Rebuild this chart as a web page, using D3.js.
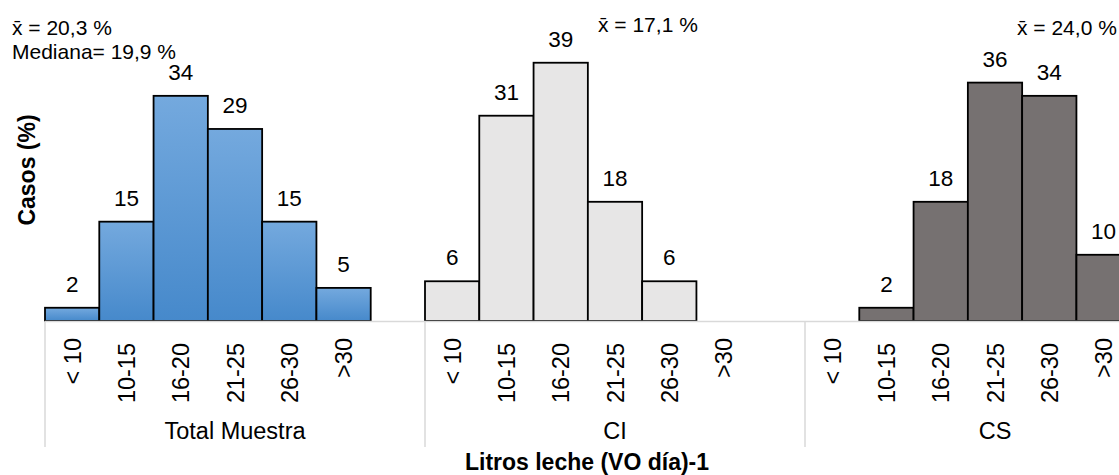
<!DOCTYPE html>
<html>
<head>
<meta charset="utf-8">
<script src="https://cdn.jsdelivr.net/npm/d3@7"></script>
<style>
  body { margin: 0; background: #fff; }
  svg { display: block; font-family: "Liberation Sans", Arial, sans-serif; }
</style>
</head>
<body>
<div id="chart"></div>
<script>
(function(){
  'use strict';

  // data
  const groups = ["Total Muestra", "CI", "CS"];
  const categories = ["< 10", "10-15", "16-20", "21-25", "26-30", ">30"];
  const totalMuestra = [2, 15, 34, 29, 15, 5];
  const ci = [6, 31, 39, 18, 6, null];
  const cs = [null, 2, 18, 36, 34, 10];
  const notes = [
    ["x\u0304 = 20,3 %", "Mediana= 19,9 %"],
    ["x\u0304 = 17,1 %"],
    ["x\u0304 = 24,0 %"]
  ];
  const yTitle = "Casos (%)";
  const xTitle = "Litros leche (VO día)-1";

  const series = [totalMuestra, ci, cs];
  const fills = ["url(#blueGrad)", "#e7e6e6", "#767171"];

  const width = 1119, height = 475;
  const left = 45, groupW = 380, baseY = 321;

  const svg = d3.select("#chart").append("svg")
    .attr("width", width)
    .attr("height", height);

  const grad = svg.append("defs").append("linearGradient")
    .attr("id", "blueGrad").attr("x1", 0).attr("y1", 0).attr("x2", 0).attr("y2", 1);
  grad.append("stop").attr("offset", "0%").attr("stop-color", "#74a9de");
  grad.append("stop").attr("offset", "100%").attr("stop-color", "#4689cb");

  // every group has its 6 classes plus one empty slot
  const slots = [];
  groups.forEach(g => {
    categories.forEach(c => slots.push(g + "|" + c));
    slots.push(g + "|");
  });

  const gx = d3.scaleBand().domain(groups).range([left, left + groupW * groups.length]);
  const x = d3.scaleBand().domain(slots).range(gx.range());
  const y = d3.scaleLinear().domain([0, 45]).range([baseY, 23]);

  // bars
  groups.forEach((g, gi) => {
    const rows = categories.map((c, i) => ({ key: g + "|" + c, v: series[gi][i] }))
      .filter(d => d.v != null);

    const grp = svg.append("g");
    grp.selectAll("rect").data(rows).join("rect")
      .attr("x", d => x(d.key))
      .attr("y", d => y(d.v))
      .attr("width", x.bandwidth())
      .attr("height", d => y(0) - y(d.v))
      .attr("fill", fills[gi])
      .attr("stroke", "#000")
      .attr("stroke-width", 1.8);

    grp.selectAll("text").data(rows).join("text")
      .attr("x", d => x(d.key) + x.bandwidth() / 2)
      .attr("y", d => y(d.v) - 16)
      .attr("text-anchor", "middle")
      .attr("font-size", 22.5)
      .attr("fill", "#000")
      .text(d => d.v);
  });

  // category axis
  const axis = svg.append("g").attr("stroke", "#d9d9d9").attr("stroke-width", 1.5);
  axis.append("line")
    .attr("x1", left).attr("x2", width)
    .attr("y1", baseY + 0.5).attr("y2", baseY + 0.5);
  axis.selectAll(".sep").data(groups).join("line")
    .attr("x1", d => gx(d)).attr("x2", d => gx(d))
    .attr("y1", baseY).attr("y2", 447);

  groups.forEach(g => {
    categories.forEach(c => {
      const cx = x(g + "|" + c) + x.bandwidth() / 2;
      const top = c.length >= 5 ? 343 : 338;
      svg.append("text")
        .attr("transform", `translate(${cx + 8.5},${top}) rotate(-90)`)
        .attr("text-anchor", "end")
        .attr("font-size", 23.5)
        .text(c);
    });
  });

  svg.append("g").selectAll("text").data(groups).join("text")
    .attr("x", d => gx(d) + gx.bandwidth() / 2)
    .attr("y", 439)
    .attr("text-anchor", "middle")
    .attr("font-size", 23.5)
    .text(d => d);

  // titles
  svg.append("text")
    .attr("x", 587).attr("y", 470)
    .attr("text-anchor", "middle")
    .attr("font-size", 23).attr("font-weight", "bold")
    .text(xTitle);

  svg.append("text")
    .attr("transform", "translate(35,170) rotate(-90)")
    .attr("text-anchor", "middle")
    .attr("font-size", 23).attr("font-weight", "bold")
    .text(yTitle);

  // mean / median notes
  const notePos = [[12, 35], [598, 32], [1017, 35]];
  notes.forEach((lines, i) => {
    lines.forEach((t, j) => {
      svg.append("text")
        .attr("x", notePos[i][0])
        .attr("y", notePos[i][1] + j * 24)
        .attr("font-size", 21)
        .text(t);
    });
  });
}());
</script>
</body>
</html>
